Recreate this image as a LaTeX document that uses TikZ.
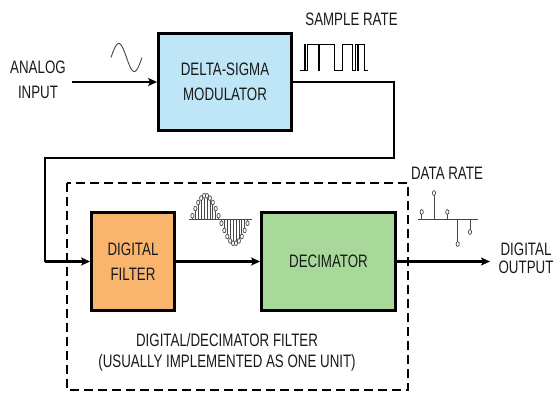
\documentclass[tikz,border=0pt]{standalone}
\usepackage{fontspec}
\setmainfont{Liberation Sans}[FakeStretch=0.74]
\usetikzlibrary{arrows.meta}
\definecolor{modblue}{RGB}{190,230,247}
\definecolor{filtorange}{RGB}{249,181,110}
\definecolor{decgreen}{RGB}{169,216,155}
\definecolor{txt}{RGB}{25,25,25}
\definecolor{sig}{RGB}{70,70,70}
\begin{document}
\begin{tikzpicture}[x=1pt,y=-1pt,
  block/.style={draw=black,line width=2.8pt,inner sep=0pt,align=center,text=txt,
    font=\fontsize{18}{25}\selectfont},
  lbl/.style={inner sep=0pt,align=center,text=txt,font=\fontsize{18}{25.5}\selectfont},
  arr/.style={line width=2.2pt,-{Stealth[length=9pt,width=8pt,inset=2pt]}},
  wire/.style={line width=1.3pt},
  sigline/.style={draw=sig,line width=0.7pt},
  dashbox/.style={draw=black,line width=2.4pt,dash pattern=on 9pt off 5pt}]
\useasboundingbox (0,0) rectangle (553,394);

% dashed enclosure
\draw[dashbox] (67,183) rectangle (408,390);

% blocks
\node[block,fill=modblue,minimum width=133pt,minimum height=97pt] (mod) at (225,82) {DELTA-SIGMA\\MODULATOR};
\node[block,fill=filtorange,minimum width=83pt,minimum height=98pt] (filt) at (133,261.5) {DIGITAL\\FILTER};
\node[block,fill=decgreen,minimum width=134pt,minimum height=98pt] (dec) at (328.5,261.5) {DECIMATOR};

% labels
\node[lbl] (ain-t) at (38,80) {ANALOG\\INPUT};
\node[lbl] (sr-t) at (351.5,19) {SAMPLE RATE};
\node[lbl] (dr-t) at (447,173.5) {DATA RATE};
\node[lbl,font=\fontsize{18}{18.5}\selectfont] (dout-t) at (526,258.5) {DIGITAL\\OUTPUT};
\node[lbl] (ddf-t) at (227,340) {DIGITAL/DECIMATOR FILTER};
\node[lbl] (uim-t) at (227,363) {(USUALLY IMPLEMENTED AS ONE UNIT)};

% connectors
\coordinate (ain) at (72,82);
\coordinate (c1) at (394,158);
\coordinate (c2) at (45,158);
\coordinate (c3) at (45,261.5);
\coordinate (dout) at (490,261.5);
\draw[arr] (ain) -- (mod.west);
\draw[wire] (mod.east) -| (c1) -- (c2) -- (c3);
\draw[arr] (c3) -- (filt.west);
\draw[arr] (filt.east) -- (dec.west);
\draw[arr] (dec.east) -- (dout);

% analog sine
\draw[sigline,line width=0.9pt,domain=0:360,samples=60,smooth]
  plot ({111+31*\x/360},{57.5-14*sin(\x)});

% sample-rate pulse train
\draw[draw=black,line width=0.9pt]
  (300,70.5) -- (304,70.5) -- (304,44) -- (305.5,44) -- (305.5,70.5) -- (307,70.5) -- (307,44)
  -- (318,44) -- (318,70.5) -- (319.5,70.5) -- (319.5,44) -- (334,44) -- (334,70.5) -- (342,70.5)
  -- (342,44) -- (352,44) -- (352,70.5) -- (355,70.5) -- (355,44) -- (357,44) -- (357,70.5)
  -- (358.5,70.5) -- (358.5,44) -- (364,44) -- (364,70.5) -- (368,70.5);

% sampled sine after the filter
\draw[sigline] (189,219.5) -- (252,219.5);
\foreach \k in {0,...,19}{
  \pgfmathsetmacro\xx{191+2.9*(\k+0.5)}
  \pgfmathsetmacro\yy{219.5-24*sin(18*(\k+0.5))}
  \draw[sigline] (\xx,219.5) -- (\xx,\yy);
  \draw[sigline,fill=white] (\xx,\yy) ellipse [x radius=1.6,y radius=2.4];
}

% data-rate samples
\draw[sigline] (418,219.3) -- (478,219.3);
\foreach \xx/\yy in {421.7/212, 434/193, 447.3/212, 457.7/244, 470/232}{
  \draw[sigline] (\xx,219.3) -- (\xx,\yy);
  \draw[sigline,fill=white] (\xx,\yy) ellipse [x radius=1.6,y radius=2.4];
}
\end{tikzpicture}
\end{document}
